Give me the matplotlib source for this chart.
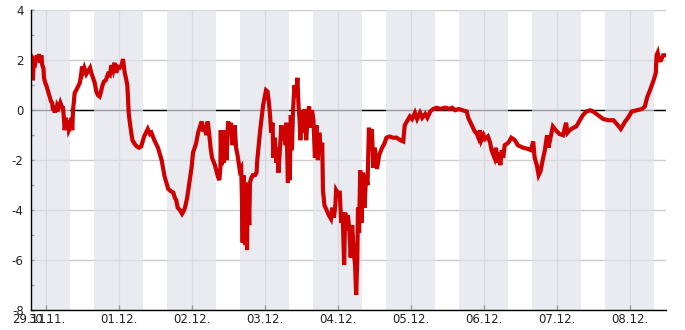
import matplotlib
matplotlib.use("Agg")
import matplotlib.pyplot as plt
import numpy as np

# time in days since 30.11. 00:00, value of the series
days = [
    -0.214, -0.205, -0.196, -0.185, -0.170, -0.150, -0.130, -0.114, -0.100, -0.085,
    -0.068, -0.055, -0.040, -0.032, -0.015, 0.000, 0.020, 0.046, 0.065, 0.080,
    0.092, 0.105, 0.115, 0.130, 0.137, 0.150, 0.170, 0.192, 0.210, 0.229,
    0.240, 0.252, 0.265, 0.280, 0.297, 0.310, 0.334, 0.345, 0.355, 0.366,
    0.380, 0.389, 0.410, 0.434, 0.460, 0.480, 0.490, 0.503, 0.520, 0.548,
    0.580, 0.600, 0.616, 0.640, 0.663, 0.685, 0.708, 0.730, 0.745, 0.770,
    0.790, 0.815, 0.845, 0.870, 0.890, 0.914, 0.930, 0.959, 0.975, 1.005,
    1.030, 1.051, 1.074, 1.090, 1.110, 1.120, 1.129, 1.140, 1.164, 1.180,
    1.210, 1.240, 1.270, 1.300, 1.340, 1.390, 1.420, 1.440, 1.480, 1.530,
    1.580, 1.620, 1.670, 1.710, 1.740, 1.760, 1.780, 1.800, 1.830, 1.860,
    1.880, 1.900, 1.930, 1.960, 1.990, 2.010, 2.050, 2.080, 2.100, 2.130,
    2.150, 2.170, 2.190, 2.210, 2.230, 2.250, 2.270, 2.310, 2.350, 2.370,
    2.385, 2.390, 2.400, 2.420, 2.430, 2.450, 2.470, 2.490, 2.510, 2.530,
    2.550, 2.580, 2.600, 2.620, 2.650, 2.670, 2.680, 2.690, 2.700, 2.715,
    2.725, 2.735, 2.750, 2.760, 2.780, 2.790, 2.810, 2.830, 2.860, 2.880,
    2.890, 2.910, 2.930, 2.950, 2.970, 2.990, 3.010, 3.030, 3.050, 3.065,
    3.080, 3.100, 3.110, 3.130, 3.150, 3.170, 3.180, 3.200, 3.220, 3.240,
    3.260, 3.280, 3.290, 3.310, 3.320, 3.335, 3.350, 3.365, 3.380, 3.400,
    3.420, 3.440, 3.455, 3.470, 3.480, 3.500, 3.520, 3.540, 3.560, 3.580,
    3.600, 3.620, 3.640, 3.660, 3.680, 3.700, 3.720, 3.740, 3.760, 3.780,
    3.790, 3.810, 3.840, 3.870, 3.900, 3.920, 3.940, 3.960, 3.970, 3.990,
    4.020, 4.040, 4.060, 4.080, 4.095, 4.110, 4.130, 4.150, 4.170, 4.190,
    4.210, 4.230, 4.245, 4.260, 4.270, 4.285, 4.300, 4.320, 4.340, 4.360,
    4.380, 4.400, 4.420, 4.440, 4.460, 4.480, 4.500, 4.530, 4.560, 4.600,
    4.630, 4.660, 4.700, 4.750, 4.800, 4.850, 4.890, 4.910, 4.940, 4.980,
    5.010, 5.050, 5.080, 5.120, 5.150, 5.190, 5.220, 5.260, 5.300, 5.350,
    5.400, 5.450, 5.480, 5.520, 5.560, 5.600, 5.650, 5.700, 5.760, 5.780,
    5.830, 5.870, 5.900, 5.920, 5.940, 5.960, 5.990, 6.010, 6.050, 6.080,
    6.100, 6.140, 6.160, 6.180, 6.200, 6.220, 6.240, 6.260, 6.280, 6.330,
    6.370, 6.420, 6.460, 6.530, 6.600, 6.640, 6.670, 6.690, 6.720, 6.745,
    6.770, 6.800, 6.830, 6.860, 6.880, 6.900, 6.940, 6.980, 7.030, 7.080,
    7.120, 7.140, 7.170, 7.220, 7.260, 7.310, 7.350, 7.400, 7.450, 7.490,
    7.560, 7.630, 7.700, 7.770, 7.830, 7.870, 7.930, 7.970, 8.020, 8.090,
    8.160, 8.200, 8.230, 8.270, 8.320, 8.350, 8.360, 8.375, 8.390, 8.420,
    8.450, 8.490,
]
values = [
    1.8, 1.3, 1.9, 1.2, 2.0, 1.9, 2.2, 2.0, 2.25, 1.9,
    2.2, 1.8, 1.7, 1.3, 1.1, 1.0, 0.8, 0.55, 0.35, 0.3,
    0.0, 0.2, -0.1, 0.15, -0.05, 0.2, 0.1, 0.3, 0.15, 0.1,
    -0.3, -0.8, -0.3, -0.6, -0.4, -0.8, -0.65, -0.3, -0.8, 0.0,
    0.4, 0.7, 0.8, 0.95, 1.1, 1.5, 1.75, 1.55, 1.7, 1.45,
    1.6, 1.7, 1.5, 1.3, 1.1, 0.75, 0.6, 0.55, 0.7, 1.0,
    1.15, 1.2, 1.45, 1.4, 1.8, 1.6, 1.9, 1.5, 1.75, 1.7,
    1.8, 2.05, 1.5, 1.3, 1.0, 0.4, -0.1, -0.4, -0.9, -1.2,
    -1.35, -1.45, -1.5, -1.45, -1.05, -0.75, -0.95, -0.9, -1.2, -1.5,
    -2.0, -2.65, -3.15, -3.25, -3.3, -3.5, -3.6, -3.9, -4.0, -4.15,
    -4.05, -3.9, -3.5, -2.9, -2.3, -1.7, -1.35, -0.9, -0.7, -0.45,
    -0.85, -0.6, -1.0, -0.45, -0.9, -1.5, -1.9, -2.2, -2.65, -2.8,
    -2.3, -0.8, -2.2, -1.0, -2.1, -0.8, -2.0, -0.45, -0.9, -0.5,
    -1.4, -0.6, -1.5, -1.8, -2.4, -2.3, -3.5, -5.3, -2.6, -4.0,
    -5.4, -3.0, -5.6, -2.9, -4.6, -2.9, -2.7, -2.6, -2.6, -2.5,
    -2.0, -1.4, -0.8, -0.3, 0.2, 0.5, 0.8, 0.75, 0.3, -0.2,
    -0.9, -0.5, -1.9, -1.1, -2.1, -1.5, -2.5, -1.6, -0.6, -1.2,
    -0.9, -1.4, -0.5, -2.9, -1.0, -2.8, -0.2, -1.6, 0.0, 1.0,
    0.5, 1.3, 0.2, -0.4, -1.2, 0.0, -0.9, 0.05, -1.2, -0.3,
    0.15, -0.7, 0.0, -0.4, -1.9, -0.6, -2.0, -0.9, -1.6, -1.3,
    -3.2, -3.8, -4.0, -4.2, -4.35, -3.9, -4.3, -3.8, -3.2, -3.3,
    -3.3, -4.5, -4.1, -6.2, -4.1, -4.8, -4.2, -4.7, -5.9, -4.6,
    -5.6, -6.2, -7.4, -6.0, -3.9, -4.9, -2.4, -4.5, -2.5, -3.9,
    -2.6, -3.0, -0.7, -1.6, -0.75, -2.3, -1.5, -2.35, -1.8, -1.5,
    -1.35, -1.1, -1.05, -1.1, -1.1, -1.2, -1.25, -0.6, -0.45, -0.25,
    -0.35, -0.1, -0.35, -0.1, -0.3, -0.15, -0.3, -0.05, 0.05, 0.1,
    0.05, 0.1, 0.1, 0.05, 0.1, 0.0, 0.05, 0.0, -0.05, -0.3,
    -0.6, -0.85, -0.95, -1.1, -0.8, -1.2, -1.0, -1.15, -1.05, -1.3,
    -1.6, -1.9, -1.5, -2.1, -1.7, -2.2, -1.6, -1.9, -1.4, -1.3,
    -1.1, -1.2, -1.4, -1.5, -1.55, -1.6, -1.25, -1.9, -2.2, -2.6,
    -2.45, -2.0, -1.6, -1.0, -1.5, -1.2, -0.65, -0.8, -0.95, -1.0,
    -0.5, -0.9, -0.8, -0.7, -0.65, -0.4, -0.2, -0.05, 0.0, -0.05,
    -0.2, -0.35, -0.4, -0.4, -0.6, -0.75, -0.45, -0.3, -0.05, 0.0,
    0.05, 0.15, 0.5, 0.8, 1.2, 1.5, 2.2, 2.3, 2.0, 2.0,
    2.2, 2.2,
]

# day ticks (days since 30.11.) and their labels
tick_days = [-0.214, 0, 1, 2, 3, 4, 5, 6, 7, 8]
tick_labels = ["29.11.", "30.11.", "01.12.", "02.12.", "03.12.", "04.12.",
               "05.12.", "06.12.", "07.12.", "08.12."]

# shaded night bands, start/end in days
band_start = [-0.34, 0.66, 1.66, 2.66, 3.66, 4.66, 5.66, 6.66, 7.66]
band_end = [0.32, 1.32, 2.32, 3.32, 4.32, 5.32, 6.32, 7.32, 8.32]

plt.rcParams['axes.unicode_minus'] = False
plt.rcParams['font.family'] = 'DejaVu Sans'

fig = plt.figure(figsize=(6.85, 3.3), dpi=100)
ax = fig.add_axes([0.0448, 0.0606, 0.9275, 0.908])

ax.set_xlim(-0.214, 8.49)
ax.set_ylim(-8, 4)

ax.axhline(0, color='black', lw=1.0, zorder=1)
for s, e in zip(band_start, band_end):
    ax.axvspan(s, e, color=(225 / 255, 227 / 255, 235 / 255), alpha=0.69,
               lw=0, zorder=1.5)

ax.plot(days, values, color='#cf0000', lw=3.0, zorder=3,
        solid_joinstyle='miter', solid_capstyle='butt')

ax.set_yticks(np.arange(-8, 5, 2))
ax.set_yticks(np.arange(-7, 4, 2), minor=True)
ax.set_xticks(tick_days)
ax.set_xticklabels(tick_labels)
ax.grid(True, color='#cccccc', lw=1.0)
ax.set_axisbelow(True)

for side in ['top', 'right']:
    ax.spines[side].set_visible(False)
for side in ['left', 'bottom']:
    ax.spines[side].set_color('black')
    ax.spines[side].set_linewidth(1.0)
    ax.spines[side].set_zorder(4)

ax.tick_params(axis='y', which='both', direction='in', length=2.5, width=1,
               labelsize=8.5, pad=5, colors='black', labelcolor='#222222')
ax.tick_params(axis='x', direction='in', length=3.5, width=1,
               labelsize=8.5, pad=2, colors='black', labelcolor='#222222')
ax.xaxis.get_major_ticks()[0].tick1line.set_visible(False)
ax.xaxis.get_major_ticks()[0].gridline.set_visible(False)

fig.savefig('out.png', dpi=100)
